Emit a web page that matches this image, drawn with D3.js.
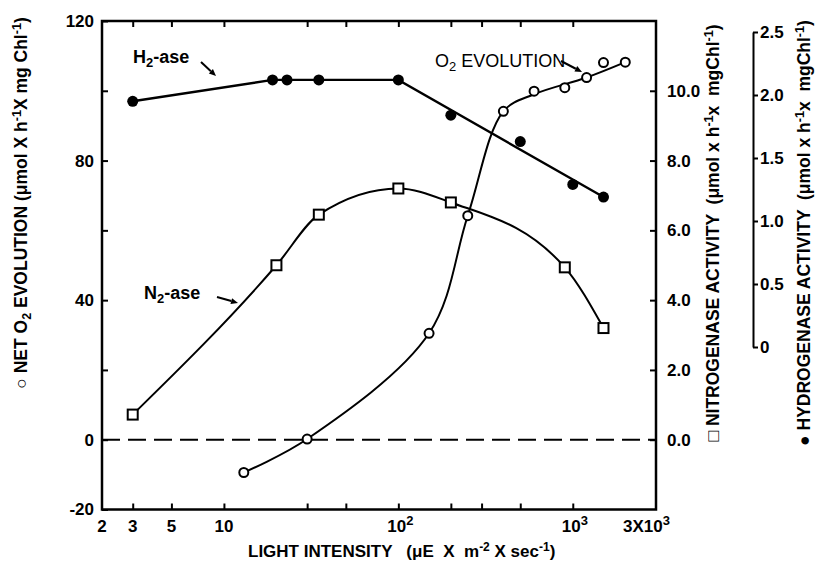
<!DOCTYPE html>
<html>
<head>
<meta charset="utf-8">
<script src="https://cdn.jsdelivr.net/npm/d3@7"></script>
<style>
  body { margin: 0; background: #fff; }
  svg text { font-family: "Liberation Sans", Arial, Helvetica, sans-serif; fill: #000; }
</style>
</head>
<body>
<svg id="chart" width="817" height="566"></svg>
<script>
const o2X   = [13, 30, 150, 250, 400, 600, 900, 1200, 1500, 2000];
const o2Val = [-9.4, 0.2, 30.5, 64.2, 94.1, 99.9, 100.9, 103.8, 108.1, 108.2];
// knots of the hand-drawn O2 curve (it does not pass every point)
const o2CurveX   = [13, 30, 150, 250, 400, 600, 1200, 2000];
const o2CurveVal = [-9.4, 0.2, 30.5, 64.2, 94.1, 99.0, 103.8, 108.2];

const n2X   = [3, 20, 35, 100, 200, 900, 1500];
const n2Val = [0.72, 5.0, 6.45, 7.2, 6.8, 4.94, 3.2];

const h2X   = [3, 19, 23, 35, 100, 200, 500, 1000, 1500];
const h2Val = [1.95, 2.12, 2.12, 2.12, 2.12, 1.84, 1.63, 1.29, 1.19];
// vertices of the drawn H2-ase line
const h2LineX   = [3, 19, 100, 1500];
const h2LineVal = [1.95, 2.12, 2.12, 1.19];

const xTicks = [3, 5, 10, 30, 50, 100, 200, 300, 500, 1000];
const leftTicks = [-20, 0, 20, 40, 60, 80, 100, 120];
const leftLabels = [-20, 0, 40, 80, 120];
const n2Ticks = [0, 2, 4, 6, 8, 10];
const h2Ticks = [0, 0.5, 1, 1.5, 2, 2.5];

const svg = d3.select('#chart');
const pLeft = 102, pRight = 656, pTop = 21, pBottom = 509.5;

// scales
const x  = d3.scaleLog().domain([2, 3000]).range([pLeft, pRight]);
const yL = d3.scaleLinear().domain([-20, 120]).range([pBottom, pTop]);
const yN = d3.scaleLinear().domain([-2, 12]).range([pBottom, pTop]);
const yH = d3.scaleLinear().domain([0, 2.5]).range([347, 32]);

const lw = 2;

// frame
svg.append('rect')
   .attr('x', pLeft).attr('y', pTop)
   .attr('width', pRight - pLeft).attr('height', pBottom - pTop)
   .attr('fill', 'none').attr('stroke', '#000').attr('stroke-width', 2.5);

function styleAxis(g) {
  g.select('.domain').remove();
  g.selectAll('line').attr('stroke', '#000').attr('stroke-width', lw);
  g.selectAll('text').attr('font-size', 17).attr('font-weight', 'bold');
}

// bottom and top ticks
svg.append('g').attr('transform', `translate(0,${pBottom})`)
   .call(d3.axisBottom(x).tickValues(xTicks).tickSizeInner(-6).tickSizeOuter(0).tickFormat(''))
   .call(styleAxis);
svg.append('g').attr('transform', `translate(0,${pTop})`)
   .call(d3.axisTop(x).tickValues(xTicks).tickSizeInner(-6).tickSizeOuter(0).tickFormat(''))
   .call(styleAxis);

// x labels with superscripts
const xLab = [[2, '2', ''], [3, '3', ''], [5, '5', ''], [10, '10', ''],
              [100, '10', '2'], [1000, '10', '3'], [3000, '3X10', '3']];
xLab.forEach(([v, base, sup]) => {
  const t = svg.append('text')
     .attr('x', v === 3000 ? x(v) - 33 : x(v) - (sup ? 11 : 0)).attr('y', pBottom + 22)
     .attr('text-anchor', sup ? 'start' : 'middle')
     .attr('font-size', 17).attr('font-weight', 'bold');
  t.append('tspan').text(base);
  if (sup) t.append('tspan').attr('dy', -7).attr('font-size', 13).text(sup);
});

// left axis
svg.append('g').attr('transform', `translate(${pLeft},0)`)
   .call(d3.axisLeft(yL).tickValues(leftTicks).tickSizeInner(-6).tickSizeOuter(0).tickPadding(8)
          .tickFormat(d => leftLabels.includes(d) ? d : ''))
   .call(styleAxis);

// right (nitrogenase) axis on frame
svg.append('g').attr('transform', `translate(${pRight},0)`)
   .call(d3.axisRight(yN).tickValues(n2Ticks).tickSizeInner(-6).tickSizeOuter(0).tickPadding(11)
          .tickFormat(d3.format('.1f')))
   .call(styleAxis);

// hydrogenase axis
const hAx = svg.append('g').attr('transform', 'translate(753,0)')
   .call(d3.axisRight(yH).tickValues(h2Ticks).tickSizeInner(5).tickSizeOuter(0).tickPadding(2)
          .tickFormat(d => d === 0 ? '0' : d3.format('.1f')(d)));
hAx.select('.domain').attr('stroke', '#000').attr('stroke-width', lw);
hAx.selectAll('line').attr('stroke', '#000').attr('stroke-width', lw);
hAx.selectAll('text').attr('font-size', 17).attr('font-weight', 'bold');

// zero dashed line
svg.append('line')
   .attr('x1', pLeft).attr('x2', pRight).attr('y1', yL(0)).attr('y2', yL(0))
   .attr('stroke', '#000').attr('stroke-width', lw).attr('stroke-dasharray', '18 8');

// curves
const curveL = d3.line().x(d => x(d[0])).y(d => yL(d[1])).curve(d3.curveCatmullRom.alpha(0.5));
const curveN = d3.line().x(d => x(d[0])).y(d => yN(d[1])).curve(d3.curveMonotoneX);
const lineH  = d3.line().x(d => x(d[0])).y(d => yH(d[1]));

svg.append('path').datum(o2CurveX.map((v, i) => [v, o2CurveVal[i]]))
   .attr('d', curveL).attr('fill', 'none').attr('stroke', '#000').attr('stroke-width', lw);
svg.append('path').datum(n2X.map((v, i) => [v, n2Val[i]]))
   .attr('d', curveN).attr('fill', 'none').attr('stroke', '#000').attr('stroke-width', lw);
svg.append('path').datum(h2LineX.map((v, i) => [v, h2LineVal[i]]))
   .attr('d', lineH).attr('fill', 'none').attr('stroke', '#000').attr('stroke-width', 2.4);

// markers
svg.selectAll('.o2').data(o2X.map((v, i) => [v, o2Val[i]])).join('circle')
   .attr('cx', d => x(d[0])).attr('cy', d => yL(d[1])).attr('r', 4.5)
   .attr('fill', '#fff').attr('stroke', '#000').attr('stroke-width', 2);
svg.selectAll('.n2').data(n2X.map((v, i) => [v, n2Val[i]])).join('rect')
   .attr('x', d => x(d[0]) - 5).attr('y', d => yN(d[1]) - 5).attr('width', 10).attr('height', 10)
   .attr('fill', '#fff').attr('stroke', '#000').attr('stroke-width', 2);
svg.selectAll('.h2').data(h2X.map((v, i) => [v, h2Val[i]])).join('circle')
   .attr('cx', d => x(d[0])).attr('cy', d => yH(d[1])).attr('r', 5.5).attr('fill', '#000');

// annotations
function note(tx, ty, parts, size, weight, ax1, ay1, ax2, ay2) {
  const t = svg.append('text').attr('x', tx).attr('y', ty)
     .attr('font-size', size).attr('font-weight', weight);
  let shift = 0;
  parts.forEach(([s, sub]) => {
    const sp = t.append('tspan').text(s);
    const want = sub ? 4 : 0;
    if (want !== shift) { sp.attr('dy', want - shift); shift = want; }
    if (sub) sp.attr('font-size', size * 0.72);
  });
  const ang = Math.atan2(ay2 - ay1, ax2 - ax1), L = 7, W = 3;
  const bx = ax2 - Math.cos(ang) * L, by = ay2 - Math.sin(ang) * L;
  svg.append('line').attr('x1', ax1).attr('y1', ay1).attr('x2', bx).attr('y2', by)
     .attr('stroke', '#000').attr('stroke-width', 2);
  svg.append('path')
     .attr('d', `M${ax2},${ay2}L${bx - Math.sin(ang) * W},${by + Math.cos(ang) * W}L${bx + Math.sin(ang) * W},${by - Math.cos(ang) * W}Z`)
     .attr('fill', '#000');
}
note(133, 63, [['H'], ['2', true], ['-ase']], 18, 'bold', 201, 62, 216, 76);
note(435, 67, [['O'], ['2', true], [' EVOLUTION']], 18, 'normal', 561, 61, 582, 72);
note(144, 299, [['N'], ['2', true], ['-ase']], 18, 'bold', 217, 297, 238, 303);

// x title
const xt = svg.append('text').attr('x', 248).attr('y', 557)
   .attr('font-size', 17).attr('font-weight', 'bold').style('white-space', 'pre');
xt.append('tspan').text('LIGHT INTENSITY   (\u03BCE  X  m');
xt.append('tspan').attr('dy', -6).attr('font-size', 12).text('-2');
xt.append('tspan').attr('dy', 6).text(' X sec');
xt.append('tspan').attr('dy', -6).attr('font-size', 12).text('-1');
xt.append('tspan').attr('dy', 6).text(')');

// rotated titles
function vtitle(cx, cy, parts, size) {
  const t = svg.append('text').attr('transform', `translate(${cx},${cy}) rotate(-90)`)
     .attr('text-anchor', 'middle').attr('font-size', size).attr('font-weight', 'bold')
     .style('white-space', 'pre');
  let shift = 0;
  parts.forEach(([s, mode]) => {
    const sp = t.append('tspan').text(s);
    const want = mode === 'sub' ? 4 : mode === 'sup' ? -6 : 0;
    if (want !== shift) { sp.attr('dy', want - shift); shift = want; }
    if (mode) sp.attr('font-size', size * 0.72);
  });
}
vtitle(27, 203, [['\u25CB NET O'], ['2', 'sub'], [' EVOLUTION (\u03BCmol X h'], ['-1', 'sup'],
                 ['X mg Chl'], ['-1', 'sup'], [')']], 17.5);
vtitle(719, 233, [['\u25A1 NITROGENASE ACTIVITY  (\u03BCmol x h'], ['-1', 'sup'], ['x  mgChl'], ['-1', 'sup'], [')']], 17.5);
vtitle(810, 233, [['\u25CF HYDROGENASE ACTIVITY  (\u03BCmol x h'], ['-1', 'sup'], ['x  mgChl'], ['-1', 'sup'], [')']], 17.5);
</script>
</body>
</html>
